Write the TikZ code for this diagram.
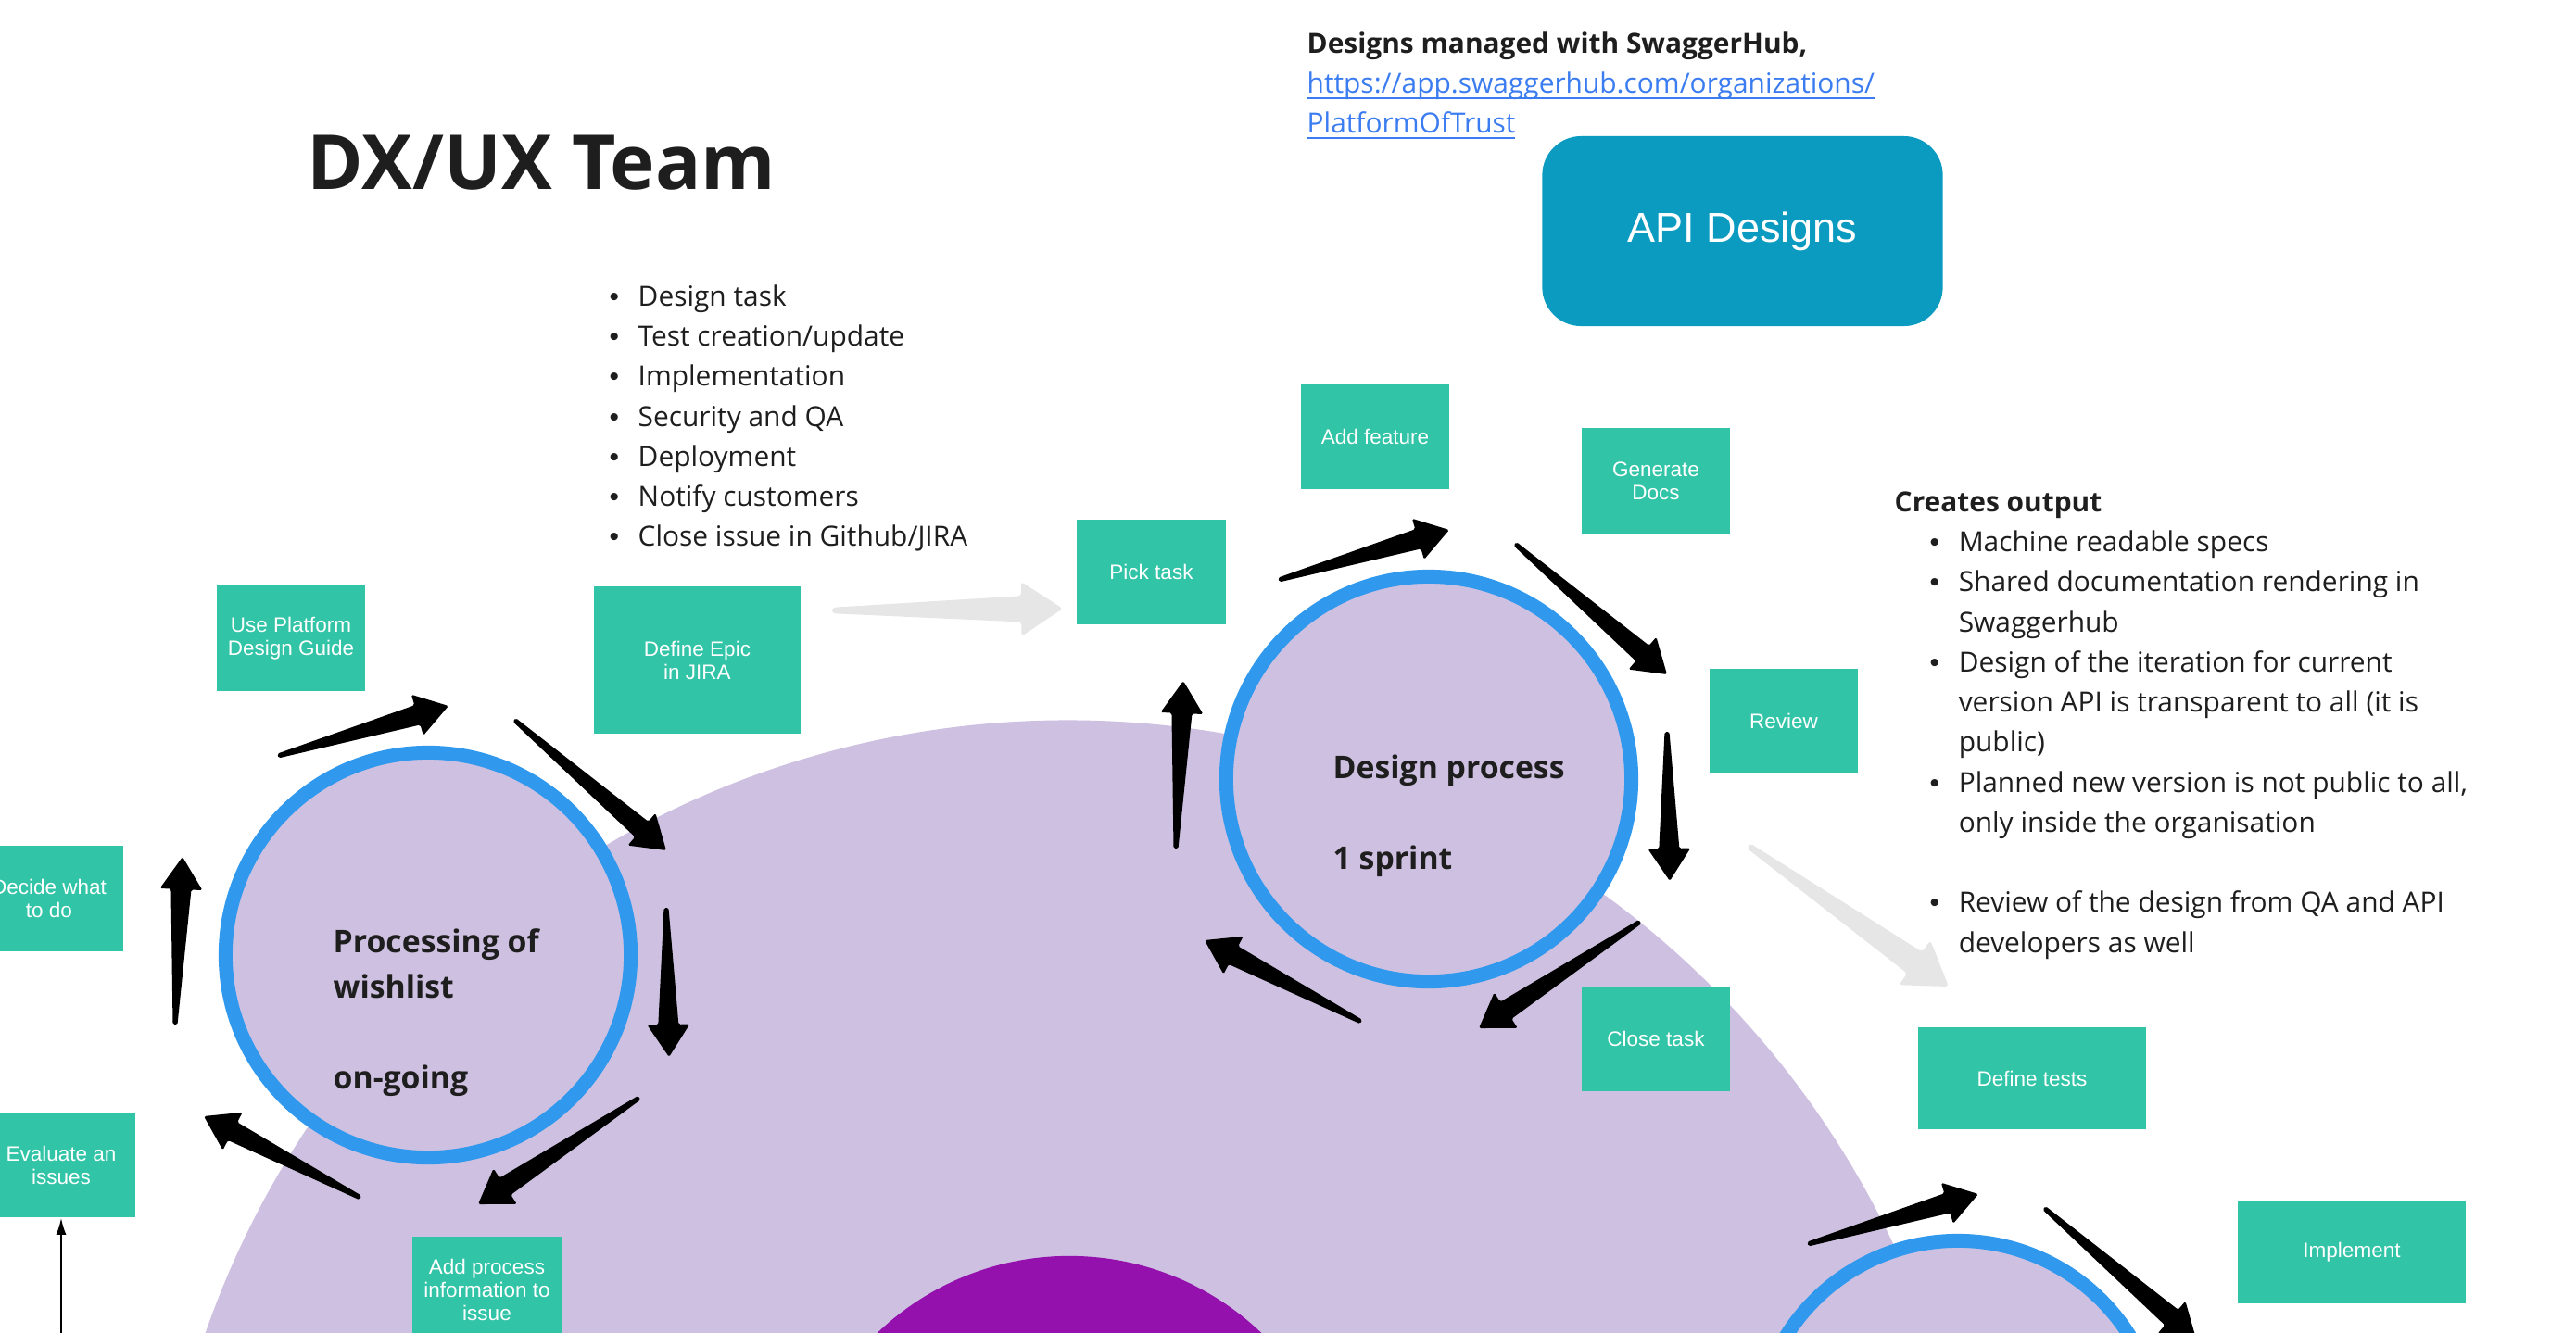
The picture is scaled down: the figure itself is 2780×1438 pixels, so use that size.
\documentclass[tikz,border=0pt]{standalone}
\usepackage{fontspec}
\setmainfont{Open Sans}
\newfontfamily\boxfont{Liberation Sans}
\usetikzlibrary{
calc,%
positioning,%
arrows.meta
}
\definecolor{taskgreen}{HTML}{31C4A6}
\definecolor{ringblue}{HTML}{3099EE}
\definecolor{lav}{HTML}{CDC0E0}
\definecolor{deeppurple}{HTML}{9411AD}
\definecolor{apiblue}{HTML}{0B9BC0}
\definecolor{softgray}{HTML}{E6E6E6}
\definecolor{linkblue}{HTML}{3B7CF0}
\definecolor{ink}{HTML}{1E1E1E}
\tikzset{
    ring/.style={circle, draw=ringblue, line width=0.15cm, fill=lav, minimum size=4.37cm, inner sep=0pt},
    task/.style={fill=taskgreen, text=white, font=\boxfont\fontsize{6.4}{7.1}\selectfont, align=center, minimum width=1.6cm, minimum height=1.13cm, inner sep=0pt},
    apibox/.style={fill=apiblue, rounded corners=0.42cm, text=white, font=\boxfont\fontsize{12.8}{15}\selectfont, minimum width=4.32cm, minimum height=2.05cm},
    looptext/.style={anchor=north west, align=left, inner sep=0pt, text=ink, font=\bfseries\fontsize{9.6}{13.9}\selectfont},
    listtext/.style={anchor=north west, align=left, inner sep=0pt, text=ink, font=\fontsize{8.5}{12.3}\selectfont},
    bigarrow/.style={fill=black, rounded corners=0.5pt},
    softarrow/.style={fill=softgray, rounded corners=1pt},
    thinarrow/.style={-{Latex[length=1.8mm,width=1.1mm]}, line width=0.6pt}
}
% tapered arrow: style, tail, tip, size factor
\newcommand\fatarrow[4]{%
  \coordinate (fa-n) at ($(#3)!#4*0.35cm!(#2)$);
  \fill[#1] ($(#2)!#4*0.025cm!90:(#3)$) -- ($(fa-n)!#4*0.11cm!90:(#3)$)
    -- ($(fa-n)!#4*0.23cm!90:(#3)$) -- (#3)
    -- ($(fa-n)!#4*0.23cm!-90:(#3)$) -- ($(fa-n)!#4*0.11cm!-90:(#3)$)
    -- ($(#2)!#4*0.025cm!-90:(#3)$) -- cycle;
}
\newcommand\bul{\makebox[0.31cm][l]{\boxfont\textbullet}}
\newcommand\ind{\hspace*{0.38cm}}
\newcommand\cont{\hspace*{0.31cm}}
\newcommand\lnk[1]{\sbox0{\color{linkblue}#1}\usebox0\llap{\color{linkblue}\rule[-1.8pt]{\wd0}{0.6pt}}}

\begin{document}
\begin{tikzpicture}[x=0.01cm, y=-0.01cm]
    \useasboundingbox (0,0) rectangle (2780,1438);
    \clip (0,0) rectangle (2780,1438);

    % background discs
    \fill[lav] (1152,1762) circle [radius=9.84cm];
    \fill[deeppurple] (1154,1656) circle [radius=3.0cm];

    % the three loops
    \node[ring] (c1) at (462,1031) {};
    \node[ring] (c2) at ($(c1)+(1080,-190)$) {};
    \node[ring] (c3) at ($(c2)+(571,717)$) {};

    \node[looptext] (c1-text) at ($(c1)+(-103,-29)$) {Processing of\\wishlist\\[13.9pt]on-going};
    \node[looptext] (c2-text) at ($(c2)+(-104,-27)$) {Design process\\[13.9pt]1 sprint};

    % arrows round the loops
    \foreach \c in {c1,c2}
      \foreach \tx/\ty/\px/\py [count=\i] in {-162/-215/22/-269, 93/-254/257/-113, 257/-51/260/110,
                                             228/154/54/269, -73/262/-242/174, -273/75/-265/-106}{
        \coordinate (\c-t\i) at ($(\c)+(\tx,\ty)$);
        \coordinate (\c-p\i) at ($(\c)+(\px,\py)$);
        \fatarrow{bigarrow}{\c-t\i}{\c-p\i}{1}
      }
    \foreach \tx/\ty/\px/\py [count=\i] in {-162/-215/22/-269, 93/-254/257/-113}{
        \coordinate (c3-t\i) at ($(c3)+(\tx,\ty)$);
        \coordinate (c3-p\i) at ($(c3)+(\px,\py)$);
        \fatarrow{bigarrow}{c3-t\i}{c3-p\i}{1}
    }

    % task boxes
    \node[task] (guide) at (314,689) {Use Platform\\Design Guide};
    \node[task, minimum width=2.23cm, minimum height=1.59cm] (epic) at (752.5,712.5) {Define Epic\\in JIRA};
    \node[task] (decide) at (53,970) {Decide what\\to do};
    \node[task] (eval) at (66,1257.5) {Evaluate an\\issues};
    \node[task] (addproc) at (525.5,1392) {Add process\\information to\\issue};
    \node[task] (pick) at (1242.5,617.5) {Pick task};
    \node[task] (addfeat) at (1484,471) {Add feature};
    \node[task] (gendocs) at (1787,519) {Generate\\Docs};
    \node[task] (review) at (1925,778.5) {Review};
    \node[task] (close) at (1787,1121.5) {Close task};
    \node[task, minimum width=2.46cm, minimum height=1.1cm] (tests) at (2193,1164) {Define tests};
    \node[task, minimum width=2.46cm, minimum height=1.1cm] (impl) at (2538,1351.5) {Implement};

    \node[apibox] (api) at (1880.5,249.5) {API Designs};

    % gray hand-over arrows
    \coordinate (epic-out) at (898,659);
    \coordinate (pick-in) at (1147,657);
    \coordinate (review-out) at (1887,913);
    \coordinate (tests-in) at (2103,1065);
    \fatarrow{softarrow}{epic-out}{pick-in}{1.28}
    \fatarrow{softarrow}{review-out}{tests-in}{1.28}

    \coordinate (eval-in) at (66,1450);
    \draw[thinarrow] (eval-in) -- (eval.south);

    % texts
    \node[anchor=base west, inner sep=0pt, text=ink, font=\bfseries\fontsize{23.3}{27}\selectfont] (title) at (331,204) {DX/UX Team};
    \node[listtext] (steps) at (657,307) {\bul Design task\\
      \bul Test creation/update\\
      \bul Implementation\\
      \bul Security and QA\\
      \bul Deployment\\
      \bul Notify customers\\
      \bul Close issue in Github/JIRA};
    \node[listtext] (swagger) at (1410,34) {\textbf{Designs managed with SwaggerHub,}\\
      \lnk{https://app.swaggerhub.com/organizations/}\\
      \lnk{PlatformOfTrust}};
    \node[listtext] (output) at (2044,530) {\textbf{Creates output}\\
      \ind\bul Machine readable specs\\
      \ind\bul Shared documentation rendering in\\
      \ind\cont Swaggerhub\\
      \ind\bul Design of the iteration for current\\
      \ind\cont version API is transparent to all (it is\\
      \ind\cont public)\\
      \ind\bul Planned new version is not public to all,\\
      \ind\cont only inside the organisation\\[12.3pt]
      \ind\bul Review of the design from QA and API\\
      \ind\cont developers as well};
\end{tikzpicture}
\end{document}
